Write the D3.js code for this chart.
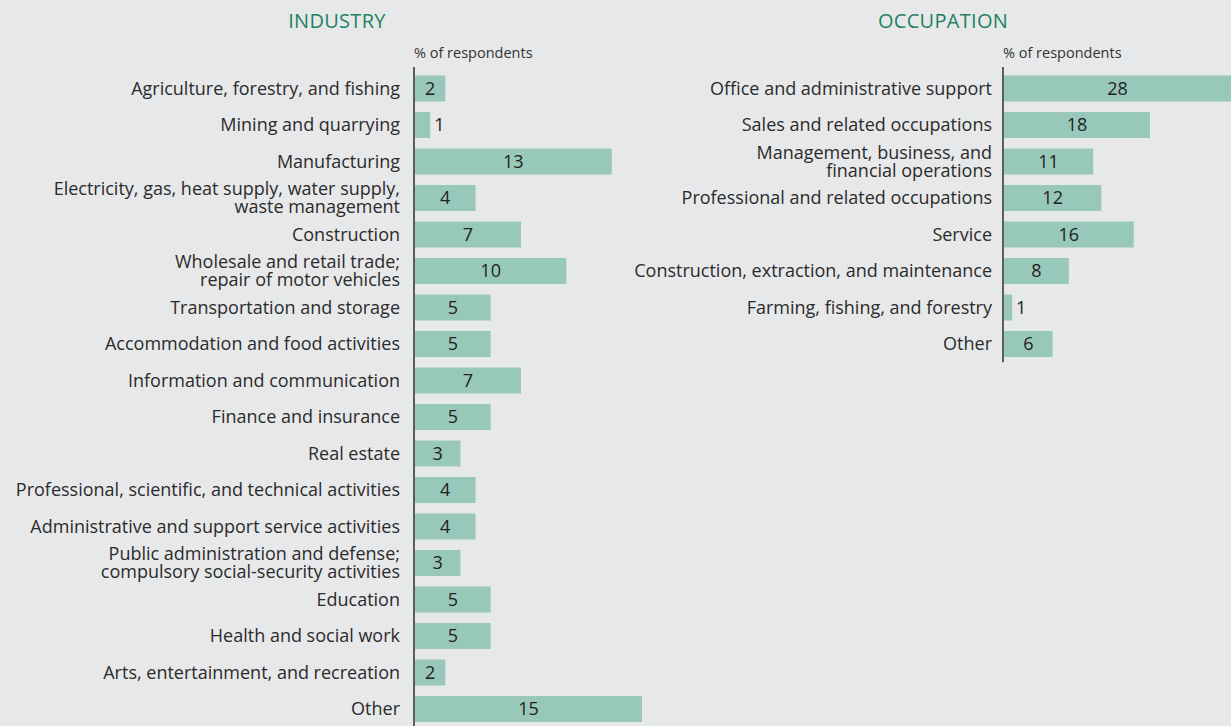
<!DOCTYPE html>
<html>
<head>
<meta charset="utf-8">
<script src="https://cdn.jsdelivr.net/npm/d3@7"></script>
<style>
  html, body { margin: 0; padding: 0; background: #e7e8ea; }
  svg { display: block; font-family: "Open Sans", Lato, sans-serif; }
</style>
</head>
<body>
<div id="chart"></div>
<script>
const industryLabels = [
  'Agriculture, forestry, and fishing',
  'Mining and quarrying',
  'Manufacturing',
  'Electricity, gas, heat supply, water supply,|waste management',
  'Construction',
  'Wholesale and retail trade;|repair of motor vehicles',
  'Transportation and storage',
  'Accommodation and food activities',
  'Information and communication',
  'Finance and insurance',
  'Real estate',
  'Professional, scientific, and technical activities',
  'Administrative and support service activities',
  'Public administration and defense;|compulsory social-security activities',
  'Education',
  'Health and social work',
  'Arts, entertainment, and recreation',
  'Other',
];
const industryValues = [2, 1, 13, 4, 7, 10, 5, 5, 7, 5, 3, 4, 4, 3, 5, 5, 2, 15];

const occupationLabels = [
  'Office and administrative support',
  'Sales and related occupations',
  'Management, business, and|financial operations',
  'Professional and related occupations',
  'Service',
  'Construction, extraction, and maintenance',
  'Farming, fishing, and forestry',
  'Other',
];
const occupationValues = [28, 18, 11, 12, 16, 8, 1, 6];

const W = 1231, H = 726;
const svg = d3.select('#chart').append('svg').attr('width', W).attr('height', H);

const rowStep = 36.5, firstRow = 88.5, barH = 26, maxBar = 227;

function panel(opts) {
  const { title, titleX, axisX, labelGap, labels, values } = opts;
  const g = svg.append('g');

  const y = d3.scaleBand()
    .domain(d3.range(labels.length))
    .range([firstRow - rowStep / 2, firstRow - rowStep / 2 + rowStep * labels.length])
    .paddingInner(1 - barH / rowStep).paddingOuter((1 - barH / rowStep) / 2);
  const x = d3.scaleLinear().domain([0, d3.max(values)]).range([axisX + 1, axisX + 1 + maxBar]);

  g.append('text')
    .attr('x', titleX).attr('y', 28)
    .attr('text-anchor', 'middle')
    .attr('fill', '#1d8262')
    .style('font-size', '20px')
    .style('letter-spacing', '0.3px')
    .text(title);

  g.append('text')
    .attr('x', axisX).attr('y', 58)
    .attr('fill', '#333')
    .style('font-size', '14.5px')
    .text('% of respondents');

  g.selectAll('rect').data(values).join('rect')
    .attr('x', x(0))
    .attr('y', (d, i) => y(i))
    .attr('width', d => x(d) - x(0))
    .attr('height', y.bandwidth())
    .attr('fill', '#98c8b9');

  g.selectAll('text.val').data(values).join('text')
    .attr('class', 'val')
    .attr('x', d => (x(d) - x(0) < 20 ? x(d) + 4 : (x(0) + x(d)) / 2))
    .attr('y', (d, i) => y(i) + y.bandwidth() / 2)
    .attr('dy', '0.36em')
    .attr('text-anchor', d => (x(d) - x(0) < 20 ? 'start' : 'middle'))
    .attr('fill', '#222')
    .style('font-size', '18px')
    .text(d => d);

  const lab = g.selectAll('text.lab').data(labels).join('text')
    .attr('class', 'lab')
    .attr('text-anchor', 'end')
    .attr('fill', '#2b2b2b')
    .style('font-size', '18px');
  lab.each(function (d, i) {
    const lines = d.split('|');
    const cy = y(i) + y.bandwidth() / 2;
    const lh = 18;
    d3.select(this).selectAll('tspan').data(lines).join('tspan')
      .attr('x', axisX - labelGap)
      .attr('y', (l, j) => cy + (j - (lines.length - 1) / 2) * lh)
      .attr('dy', '0.36em')
      .text(l => l);
  });

  g.append('line')
    .attr('x1', axisX).attr('x2', axisX)
    .attr('y1', 67).attr('y2', y.range()[1])
    .attr('stroke', '#111').attr('stroke-width', 1.3);
}

panel({ title: 'INDUSTRY', titleX: 337, axisX: 414, labelGap: 14, labels: industryLabels, values: industryValues });
panel({ title: 'OCCUPATION', titleX: 943, axisX: 1003, labelGap: 11, labels: occupationLabels, values: occupationValues });
</script>
</body>
</html>
